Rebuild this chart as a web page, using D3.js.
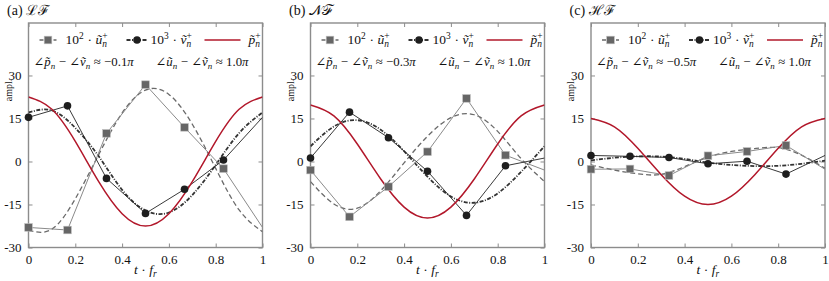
<!DOCTYPE html>
<html>
<head>
<meta charset="utf-8">
<script src="https://cdn.jsdelivr.net/npm/d3@7"></script>
<style>
  body { margin: 0; background: #fff; }
  svg text { font-family: "Liberation Serif", "DejaVu Serif", serif; white-space: pre; fill: #111; }
</style>
</head>
<body>
<div id="chart"></div>
<script>
// sample times for the fitted curves and the marker times (1/6 steps, last = wrap to t=1)
const tFit = [0, 0.1, 0.2, 0.3, 0.4, 0.5, 0.6, 0.7, 0.8, 0.9, 1];
const tMark = [0, 0.1667, 0.3333, 0.5, 0.6667, 0.8333, 1];
const xTicks = [0, 0.2, 0.4, 0.6, 0.8, 1];
const yTicks = [-30, -15, 0, 15, 30];

const panelTags = ["(a)", "(b)", "(c)"];
const panelNames = ["ℒℱ", "𝒩ℱ", "ℋℱ"];
const phasePV = ["−0.1", "−0.3", "−0.5"];
const phaseUV = ["1.0", "1.0", "1.0"];

// (a) LF
const uMarkA = [-23.0, -23.9, 9.8, 26.8, 11.9, -2.5, -23.0];
const vMarkA = [15.4, 19.4, -5.9, -18.1, -9.7, 0.5, 15.4];
const uFitA = [-24.0, -23.6, -13.0, 2.4, 16.9, 24.9, 23.4, 13.0, -2.4, -16.9, -24.5];
const vFitA = [17.1, 17.8, 11.7, 1.8, -9.9, -17.1, -17.8, -11.7, -1.2, 9.9, 17.1];
const pA = [22.5, 18.2, 7.0, -7.0, -18.2, -22.5, -18.2, -7.0, 7.0, 18.2, 22.5];

// (b) NF
const uMarkB = [-3.0, -19.3, -8.8, 3.4, 22.0, 2.2, -3.0];
const vMarkB = [1.2, 17.2, 8.3, -3.4, -18.8, -1.5, 1.2];
const uFitB = [-7.0, -14.8, -16.3, -10.2, -0.5, 8.8, 15.3, 16.3, 10.5, 1.0, -7.0];
const vFitB = [5.3, 12.2, 14.4, 11.1, 3.6, -5.3, -12.2, -14.4, -11.1, -3.6, 5.3];
const pB = [19.7, 15.9, 6.1, -6.1, -15.9, -19.7, -15.9, -6.1, 6.1, 15.9, 19.7];

// (c) HF
const uMarkC = [-2.7, -2.6, -4.9, 2.0, 3.5, 5.6, -2.7];
const vMarkC = [2.1, 1.8, 1.4, -0.8, 0.1, -4.4, 2.1];
const uFitC = [-1.2, -3.0, -4.3, -4.5, -1.8, 1.5, 3.5, 4.5, 4.8, 2.2, -2.4];
const vFitC = [0.4, 1.3, 1.8, 1.7, 0.9, -0.4, -1.2, -1.6, -1.5, -0.8, 0.3];
const pC = [15.0, 12.1, 4.6, -4.6, -12.1, -15.0, -12.1, -4.6, 4.6, 12.1, 15.0];

const uMarks = [uMarkA, uMarkB, uMarkC];
const vMarks = [vMarkA, vMarkB, vMarkC];
const uFits = [uFitA, uFitB, uFitC];
const vFits = [vFitA, vFitB, vFitC];
const pFits = [pA, pB, pC];

const W = 829, H = 281;
const panelLeft = [28.5, 310.5, 591];
const pw = 234, plotTop = 23, plotBottom = 247.5;

const red = "#b2182b", grayMark = "#666", grayLine = "#8a8a8a", frame = "#8c8c8c";

const svg = d3.select("#chart").append("svg")
    .attr("width", W)
    .attr("height", H);

function measure(g, s, size, it) {
    let t = g.append("text").attr("font-size", size).attr("font-style", it ? "italic" : null).text(s);
    let w = t.node().getComputedTextLength();
    t.remove();
    return w;
}

// one <text> with tspans; sup/sub parts are stacked like TeX u^+_n
function rich(g, x, y, parts, fs) {
    let txt = g.append("text").attr("x", x).attr("y", y).attr("font-size", fs);
    let off = 0, pend = 0;
    let span = (s, size, it, newOff, dx) => {
        txt.append("tspan").attr("font-size", size)
            .attr("font-style", it ? "italic" : "normal")
            .attr("dy", newOff - off).attr("dx", dx ? dx : null).text(s);
        off = newOff;
    };
    parts.forEach(p => {
        let hasSup = p.sup !== undefined, hasSub = p.sub !== undefined;
        if (hasSup || hasSub) {
            let ws = hasSup ? measure(g, p.sup, fs * 0.7, false) : 0;
            let wb = hasSub ? measure(g, p.sub, fs * 0.7, true) : 0;
            if (hasSup) { span(p.sup, fs * 0.7, false, -fs * 0.38, pend); pend = 0; }
            if (hasSub) { span(p.sub, fs * 0.7, true, fs * 0.25, (hasSup ? -ws : 0) + pend); pend = 0; }
            let used = hasSub ? wb : ws;
            pend = Math.max(ws, wb) - used + 0.5;
        } else {
            span(p.t, fs, p.i, 0, pend);
            pend = 0;
        }
    });
    return txt;
}

const x = d3.scaleLinear().domain([0, 1]).range([0, pw]);
const y = d3.scaleLinear().domain([-30, 48.3]).range([plotBottom, plotTop]);

const smooth = d3.line().x((d, i) => x(tFit[i])).y(d => y(d)).curve(d3.curveNatural);
const straight = d3.line().x((d, i) => x(tMark[i])).y(d => y(d));

for (let k = 0; k < 3; k++) {
    let g = svg.append("g").attr("transform", `translate(${panelLeft[k]},0)`);

    let clipId = "clip" + k;
    g.append("clipPath").attr("id", clipId)
        .append("rect").attr("x", 0).attr("y", plotTop).attr("width", pw).attr("height", plotBottom - plotTop);

    // axes, ticks pointing inward
    let ax = [
        d3.axisBottom(x).tickValues(xTicks).tickSizeInner(-4).tickSizeOuter(0).tickPadding(7).tickFormat(d => String(d)),
        d3.axisTop(x).tickValues(xTicks).tickSizeInner(-4).tickSizeOuter(0).tickFormat(""),
        d3.axisLeft(y).tickValues(yTicks).tickSizeInner(-4).tickSizeOuter(0).tickPadding(7).tickFormat(d => String(d)),
        d3.axisRight(y).tickValues(yTicks).tickSizeInner(-4).tickSizeOuter(0).tickFormat("")
    ];
    let pos = [`translate(0,${plotBottom})`, `translate(0,${plotTop})`, "translate(0,0)", `translate(${pw},0)`];
    ax.forEach((a, i) => {
        let ag = g.append("g").attr("transform", pos[i]).call(a);
        ag.select(".domain").remove();
        ag.selectAll(".tick line").attr("stroke", frame).attr("stroke-width", 1);
        ag.selectAll(".tick text").attr("font-size", 13).attr("fill", "#111");
    });

    g.append("rect").attr("x", 0).attr("y", plotTop).attr("width", pw).attr("height", plotBottom - plotTop)
        .attr("fill", "none").attr("stroke", frame).attr("stroke-width", 1.4);

    let plot = g.append("g").attr("clip-path", `url(#${clipId})`);

    // fitted curves
    plot.append("path").datum(uFits[k]).attr("d", smooth)
        .attr("fill", "none").attr("stroke", "#6a6a6a").attr("stroke-width", 1.3)
        .attr("stroke-dasharray", "5,3");
    plot.append("path").datum(vFits[k]).attr("d", smooth)
        .attr("fill", "none").attr("stroke", "#333").attr("stroke-width", 1.8)
        .attr("stroke-dasharray", "4,1.5,1,1.5");

    // sample connecting lines
    plot.append("path").datum(uMarks[k]).attr("d", straight)
        .attr("fill", "none").attr("stroke", grayLine).attr("stroke-width", 1);
    plot.append("path").datum(vMarks[k]).attr("d", straight)
        .attr("fill", "none").attr("stroke", "#222").attr("stroke-width", 0.9);

    // pressure
    plot.append("path").datum(pFits[k]).attr("d", smooth)
        .attr("fill", "none").attr("stroke", red).attr("stroke-width", 1.5);

    // markers (no marker at the wrap point t = 1)
    g.selectAll(".sq").data(uMarks[k].slice(0, 6)).join("rect")
        .attr("x", (d, i) => x(tMark[i]) - 3.8).attr("y", d => y(d) - 3.8)
        .attr("width", 7.6).attr("height", 7.6)
        .attr("fill", grayMark).attr("stroke", "#bbb").attr("stroke-width", 0.6);
    g.selectAll(".ci").data(vMarks[k].slice(0, 6)).join("circle")
        .attr("cx", (d, i) => x(tMark[i])).attr("cy", d => y(d)).attr("r", 3.8)
        .attr("fill", "#1e1e1e");

    // legend row
    let ly = 44;
    g.append("line").attr("x1", 11).attr("x2", 28).attr("y1", ly - 4).attr("y2", ly - 4)
        .attr("stroke", "#6a6a6a").attr("stroke-width", 1.3).attr("stroke-dasharray", "4,3");
    g.append("rect").attr("x", 15.7).attr("y", ly - 7.8).attr("width", 7.6).attr("height", 7.6)
        .attr("fill", grayMark).attr("stroke", "#bbb").attr("stroke-width", 0.6);
    rich(g, 37, ly, [{t: "10"}, {sup: "2"}, {t: " · "}, {t: "ũ", i: 1}, {sup: "+", sub: "n"}], 13.5);

    g.append("line").attr("x1", 98).attr("x2", 119).attr("y1", ly - 4).attr("y2", ly - 4)
        .attr("stroke", "#333").attr("stroke-width", 1.8).attr("stroke-dasharray", "4,1.5,1,1.5");
    g.append("circle").attr("cx", 108.5).attr("cy", ly - 4).attr("r", 3.8).attr("fill", "#1e1e1e");
    rich(g, 122, ly, [{t: "10"}, {sup: "3"}, {t: " · "}, {t: "ṽ", i: 1}, {sup: "+", sub: "n"}], 13.5);

    g.append("line").attr("x1", 176).attr("x2", 212).attr("y1", ly - 4).attr("y2", ly - 4)
        .attr("stroke", red).attr("stroke-width", 1.5);
    rich(g, 220, ly, [{t: "p̃", i: 1}, {sup: "+", sub: "n"}], 13.5);

    // phase notes
    let ny = 66;
    rich(g, 5, ny, [{t: "∠"}, {t: "p̃", i: 1}, {sub: "n"}, {t: " − ∠"}, {t: "ṽ", i: 1}, {sub: "n"},
        {t: " ≈ " + phasePV[k]}, {t: "π", i: 1}], 12.8);
    rich(g, 127, ny, [{t: "∠"}, {t: "ũ", i: 1}, {sub: "n"}, {t: " − ∠"}, {t: "ṽ", i: 1}, {sub: "n"},
        {t: " ≈ " + phaseUV[k]}, {t: "π", i: 1}], 12.8);

    // title
    rich(g, -21.5, 15, [{t: panelTags[k] + " "}, {t: panelNames[k]}], 14);

    // y label
    g.append("text").attr("transform", `translate(-17,90) rotate(-90)`)
        .attr("text-anchor", "middle").attr("font-size", 10).text("ampl.");

    // x label, centred under the panel
    let xl = rich(g, 0, 274, [{t: "t", i: 1}, {t: " · "}, {t: "f", i: 1}, {sub: "r"}], 13.5);
    let bw = xl.node().getBBox().width;
    xl.attr("x", pw / 2 - bw / 2);
}
</script>
</body>
</html>
